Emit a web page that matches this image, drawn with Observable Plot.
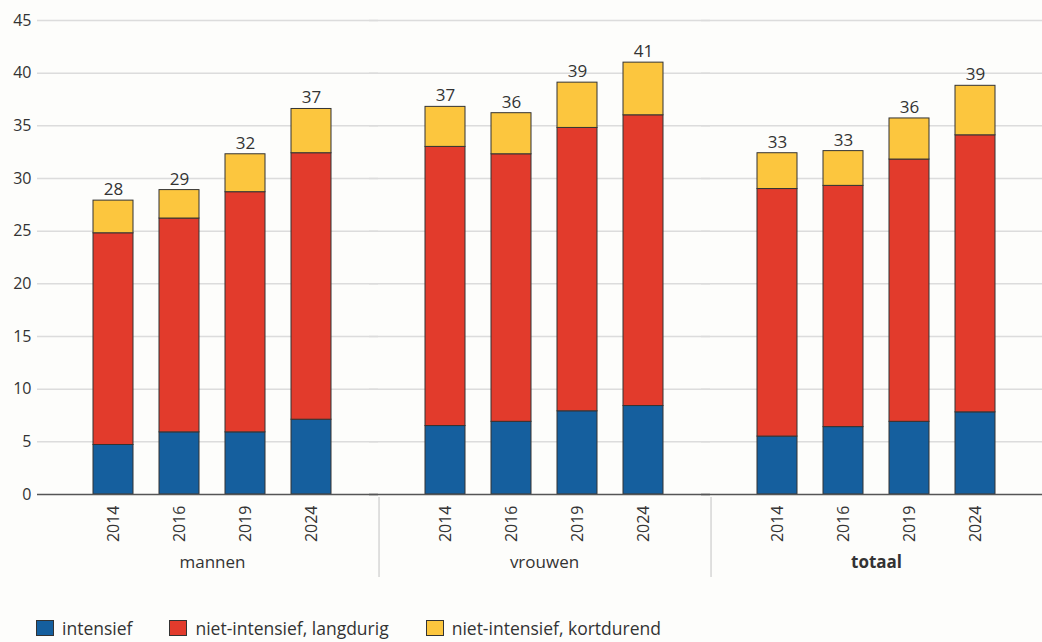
<!DOCTYPE html>
<html>
<head>
<meta charset="utf-8">
<script src="https://cdn.jsdelivr.net/npm/d3@7"></script>
<script src="https://cdn.jsdelivr.net/npm/@observablehq/plot@0.6"></script>
<style>
  html, body { margin: 0; padding: 0; background: #fdfdfb; }
  body { width: 1042px; height: 642px; overflow: hidden; font-family: "Open Sans", sans-serif; }
  #chart svg { display: block; background: #fdfdfb; }
  .legend { position: absolute; left: 36px; top: 617px; display: flex; align-items: center; font-size: 17.5px; line-height: 22px; color: #333; }
  .legend .item { display: flex; align-items: center; margin-right: 37px; }
  .legend .sw { width: 18px; height: 16px; border: 1px solid #333; margin-right: 8px; box-sizing: border-box; }
</style>
</head>
<body>
<div id="chart"></div>
<div class="legend" id="legend"></div>
<script>
// ---- data ----
const groups = ["mannen", "vrouwen", "totaal"];
const years = ["2014", "2016", "2019", "2024"];
const categories = ["intensief", "niet-intensief, langdurig", "niet-intensief, kortdurend"];
const colors = ["#155f9e", "#e23b2c", "#fcc63e"];

// values per group, per year (same order as years)
const intensief = {
  mannen:  [4.7, 5.9, 5.9, 7.1],
  vrouwen: [6.5, 6.9, 7.9, 8.4],
  totaal:  [5.5, 6.4, 6.9, 7.8]
};
const langdurig = {
  mannen:  [20.1, 20.3, 22.8, 25.3],
  vrouwen: [26.5, 25.4, 26.9, 27.6],
  totaal:  [23.5, 22.9, 24.9, 26.3]
};
const kortdurend = {
  mannen:  [3.1, 2.7, 3.6, 4.2],
  vrouwen: [3.8, 3.9, 4.3, 5.0],
  totaal:  [3.4, 3.3, 3.9, 4.7]
};
const totalLabels = {
  mannen:  ["28", "29", "32", "37"],
  vrouwen: ["37", "36", "39", "41"],
  totaal:  ["33", "33", "36", "39"]
};
const yTicks = [0, 5, 10, 15, 20, 25, 30, 35, 40, 45];

// ---- build table ----
const series = [intensief, langdurig, kortdurend];
const rows = [];
const totals = [];
for (const g of groups) {
  years.forEach((y, i) => {
    let sum = 0;
    series.forEach((s, k) => {
      rows.push({group: g, year: y, category: categories[k], value: s[g][i]});
      sum += s[g][i];
    });
    totals.push({group: g, year: y, total: sum, label: totalLabels[g][i]});
  });
}

const width = 1042, height = 600;
const marginLeft = 45, marginRight = 0;
const facetW = (width - marginLeft - marginRight) / groups.length;
const step = facetW / 5; // band step inside a facet (4 bars + outer padding)

const fontFamily = "'Open Sans', sans-serif";

const chart = Plot.plot({
  width, height,
  marginTop: 20, marginBottom: 106, marginLeft, marginRight,
  style: {background: "#fdfdfb", fontFamily, color: "#333"},
  fx: {domain: groups, padding: 0, axis: null},
  x: {domain: years, paddingInner: 0.4, paddingOuter: 0.7, axis: null},
  y: {domain: [0, 45], axis: null},
  color: {domain: categories, range: colors},
  marks: [
    Plot.ruleY(yTicks.filter(d => d > 0), {stroke: "#dcdcdc", strokeWidth: 1.5, insetLeft: -9}),
    Plot.barY(rows, Plot.stackY({
      fx: "group", x: "year", y: "value", fill: "category",
      stroke: "#333", strokeWidth: 1, order: categories
    })),
    Plot.ruleY([0], {stroke: "#555", strokeWidth: 1.5, insetLeft: -9}),
    Plot.text(totals, {
      fx: "group", x: "year", y: "total", text: "label",
      dy: -11, fontSize: 17, fill: "#333", fontFamily
    }),
    Plot.axisY({
      ticks: yTicks, tickSize: 0, tickPadding: 15, fontSize: 16,
      fill: "#333", fontFamily, label: null
    }),
    Plot.axisX({
      tickSize: 0, tickPadding: 11, tickRotate: -90, fontSize: 16,
      fill: "#333", fontFamily, label: null
    }),
    // separators between groups
    Plot.ruleX(groups.slice(1), {
      fx: d => d, x: () => years[0], y1: 0, y2: 0,
      dx: -step, insetTop: 3, insetBottom: -83, stroke: "#d5d5d5", strokeWidth: 1.5
    }),
    // group labels
    Plot.text(groups.filter(g => g !== "totaal"), {
      fx: d => d, text: d => d, frameAnchor: "bottom", dy: 73,
      fontSize: 17, fill: "#333", fontFamily
    }),
    Plot.text(groups.filter(g => g === "totaal"), {
      fx: d => d, text: d => d, frameAnchor: "bottom", dy: 73,
      fontSize: 17, fontWeight: "bold", fill: "#333", fontFamily
    })
  ]
});
document.getElementById("chart").appendChild(chart);

// ---- legend ----
const legend = document.getElementById("legend");
categories.forEach((c, i) => {
  const item = document.createElement("div");
  item.className = "item";
  const sw = document.createElement("div");
  sw.className = "sw";
  sw.style.background = colors[i];
  const t = document.createElement("span");
  t.textContent = c;
  item.appendChild(sw);
  item.appendChild(t);
  legend.appendChild(item);
});
</script>
</body>
</html>
